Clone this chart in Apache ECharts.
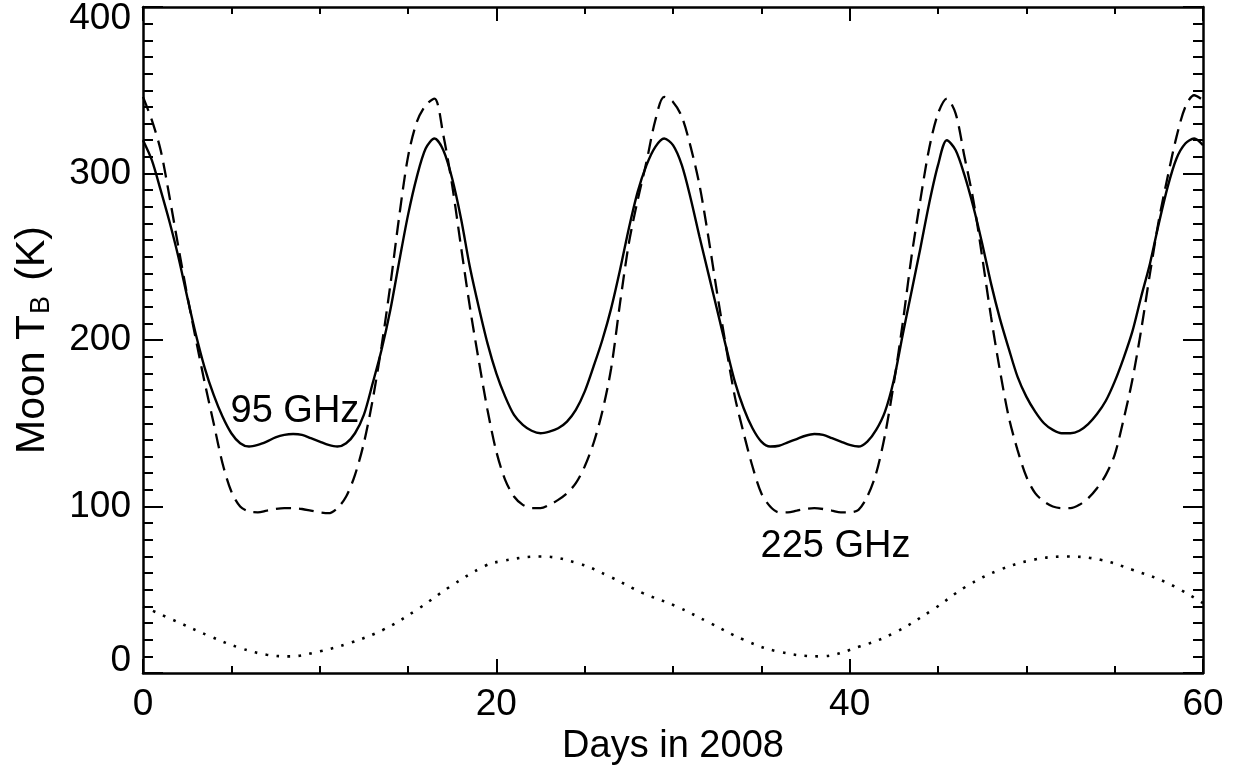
<!DOCTYPE html>
<html>
<head>
<meta charset="utf-8">
<script src="https://cdn.jsdelivr.net/npm/echarts@6/dist/echarts.min.js"></script>
<style>
html,body{margin:0;padding:0;background:#fff;}
#c{width:1240px;height:776px;}
</style>
</head>
<body>
<div id="c"></div>
<script>
// ---- data ----
const xTicks = [0, 20, 40, 60];
const yTicks = [0, 100, 200, 300, 400];

// sampling days for the two brightness curves: 0, 0.5, 1.0 ... 60
const days = [0,0.5,1,1.5,2,2.5,3,3.5,4,4.5,5,5.5,6,6.5,7,7.5,8,8.5,9,9.5,
  10,10.5,11,11.5,12,12.5,13,13.5,14,14.5,15,15.5,16,16.5,17,17.5,18,18.5,19,19.5,
  20,20.5,21,21.5,22,22.5,23,23.5,24,24.5,25,25.5,26,26.5,27,27.5,28,28.5,29,29.5,
  30,30.5,31,31.5,32,32.5,33,33.5,34,34.5,35,35.5,36,36.5,37,37.5,38,38.5,39,39.5,
  40,40.5,41,41.5,42,42.5,43,43.5,44,44.5,45,45.5,46,46.5,47,47.5,48,48.5,49,49.5,
  50,50.5,51,51.5,52,52.5,53,53.5,54,54.5,55,55.5,56,56.5,57,57.5,58,58.5,59,59.5,60];

// 95 GHz (solid)
const tb95 = [320,308,290,271,250,226,203,183,167,154,144,138,136,137,139,141.5,143,143.5,143,141,
  139,137,136,138,144,155,174,194,218,247,275,298,315,321,314,297,273,244,220,198,
  180,166,155,149,145.5,144,145,147,151,158,169,184,200,219,242,267,289,305,316,321,
  317,305,285,262,240,218,196,175,159,147,139,136,136.5,138.5,140.5,142.5,143.5,143,141,139,
  137,136,139,146,157,176,203,229,255,282,305,320,314,299,280,258,234,213,195,178,
  166,157,150,146,144,144,145.5,149.5,155.5,163.5,175,189,205,226,246,270,292,309,318,321,317];

// 225 GHz (dashed)
const tb225 = [346,332,314,286,256,227,200,174,150,126,109,100,97,96.5,97.5,98.5,99,99,98.5,97.5,
  96.5,96,99,106,119,138,164,196,233,274,310,331,341,345,323,293,256,220,188,158,
  133,116,106,101,99,99,101,104,108,114,124,138,157,183,222,258,284,307,332,346,
  343,334,316,293,262,228,196,166,144,124,108,100,96.5,96.5,97.5,98.5,99,98.5,97.5,96.5,
  96.5,98,106,120,143,174,210,250,284,315,336,345,336,310,284,250,214,182,154,134,
  118,108,103,100,99,99,101,105,111,119,131,152,176,206,240,272,298,322,340,347,344];

// lower dotted curve
const daysDot = [0, 2.1, 3.8, 5.5, 7.0, 8.3, 10.0, 11.7, 13.6, 15.5, 17.4, 19.3, 20.2, 22.5, 24.6, 26.4, 28.3, 30.2, 32.1, 34.0, 35.9, 38.3, 40.6, 42.5, 44.7, 46.6, 48.5, 50.4, 52.3, 54.2, 56.0, 58.0, 60];
const tbDot = [40, 30, 22, 15, 11, 10, 13, 18, 26, 38, 52, 64, 67, 70, 66, 58, 48, 40, 30, 20, 13, 10, 16, 24, 38, 52, 62, 68, 70, 68, 62, 54, 42];

const label95 = {text: '95 GHz', at: [8.6, 157]};
const label225 = {text: '225 GHz', at: [39.2, 76]};
// --------------------------------------

const FONT = "'Liberation Sans', Arial, Helvetica, sans-serif";
const pairs = (xs, ys) => xs.map((x, i) => [x, ys[i]]);

const chart = echarts.init(document.getElementById('c'), null, {renderer: 'canvas'});

function xAx(pos, showLabels) {
  return {
    type: 'value', position: pos, min: xTicks[0], max: xTicks[xTicks.length - 1],
    interval: xTicks[1] - xTicks[0],
    axisLine: {show: true, onZero: false, lineStyle: {color: '#000', width: 2.5}},
    axisTick: {show: true, inside: true, length: 14, lineStyle: {color: '#000', width: 2}},
    minorTick: {show: true, splitNumber: 4, length: 7, lineStyle: {color: '#000', width: 2}},
    splitLine: {show: false},
    axisLabel: {show: showLabels, fontSize: 37, color: '#000', fontFamily: FONT, margin: 13},
    name: showLabels ? 'Days in 2008' : '',
    nameLocation: 'middle', nameGap: 55,
    nameTextStyle: {fontSize: 38, color: '#000', fontFamily: FONT}
  };
}
function yAx(pos, showLabels) {
  return {
    type: 'value', position: pos, min: yTicks[0], max: yTicks[yTicks.length - 1],
    interval: yTicks[1] - yTicks[0],
    axisLine: {show: true, onZero: false, lineStyle: {color: '#000', width: 2.5}},
    axisTick: {show: true, inside: true, length: 20, lineStyle: {color: '#000', width: 2}},
    minorTick: {show: true, splitNumber: 10, length: 10, lineStyle: {color: '#000', width: 2}},
    splitLine: {show: false},
    axisLabel: {
      show: showLabels, fontSize: 37, color: '#000', fontFamily: FONT, margin: 12,
      formatter: function (v) {
        if (v === yTicks[yTicks.length - 1]) return '{top|' + v + '}';
        if (v === yTicks[0]) return '{bot|' + v + '}';
        return String(v);
      },
      rich: {
        top: {fontSize: 37, color: '#000', fontFamily: FONT, padding: [24, 0, 0, 0]},
        bot: {fontSize: 37, color: '#000', fontFamily: FONT, padding: [0, 0, 24, 0]}
      }
    },
    name: showLabels ? '{a|Moon T}{s|B}{a| (K)}' : '',
    nameLocation: 'middle', nameGap: 88,
    nameTextStyle: {
      color: '#000', fontFamily: FONT,
      rich: {
        a: {fontSize: 41, color: '#000', fontFamily: FONT, lineHeight: 44},
        s: {fontSize: 27, color: '#000', fontFamily: FONT, lineHeight: 27, verticalAlign: 'bottom', padding: [0, 4, 0, 1]}
      }
    }
  };
}

const option = {
  backgroundColor: '#fff',
  animation: false,
  grid: {left: 143, right: 37, top: 7, bottom: 103, containLabel: false},
  xAxis: [xAx('bottom', true), xAx('top', false)],
  yAxis: [yAx('left', true), yAx('right', false)],
  series: [
    {type: 'line', name: '95 GHz', data: pairs(days, tb95), showSymbol: false, smooth: 0.3,
     lineStyle: {color: '#000', width: 2.4, type: 'solid'}},
    {type: 'line', name: '225 GHz', data: pairs(days, tb225), showSymbol: false, smooth: 0.3,
     lineStyle: {color: '#000', width: 2.3, type: [15, 8]}},
    {type: 'line', name: 'dotted', data: pairs(daysDot, tbDot), showSymbol: false, smooth: 0.4,
     lineStyle: {color: '#000', width: 2.6, type: [2.6, 8.4]}}
  ]
};
chart.setOption(option);

function placeLabels() {
  const g = [label95, label225].map(l => {
    const p = chart.convertToPixel({xAxisIndex: 0, yAxisIndex: 0}, l.at);
    return {type: 'text', x: p[0], y: p[1],
      style: {text: l.text, fontSize: 38, fill: '#000', fontFamily: FONT, align: 'center', verticalAlign: 'middle'}};
  });
  chart.setOption({graphic: g});
}
placeLabels();
</script>
</body>
</html>
